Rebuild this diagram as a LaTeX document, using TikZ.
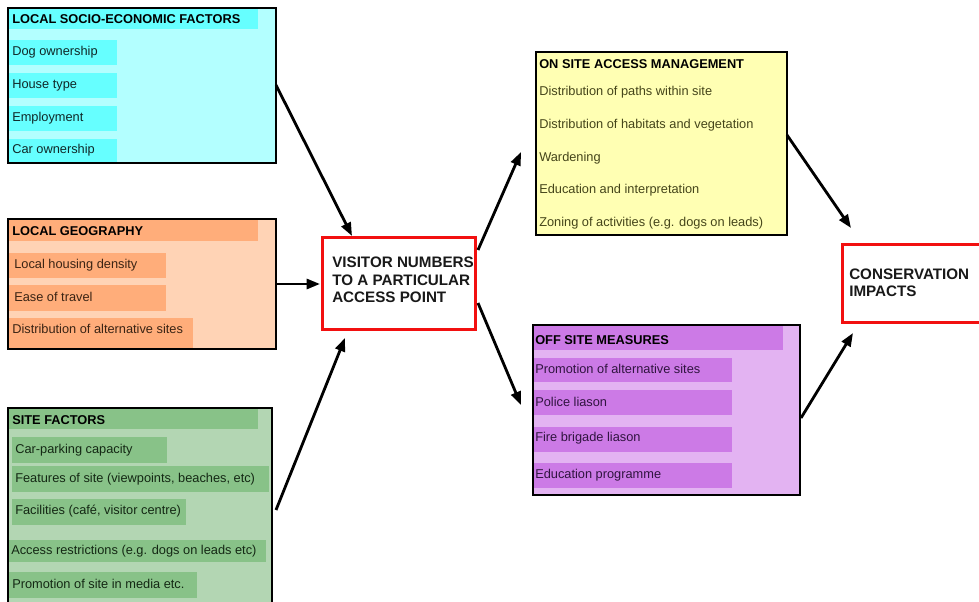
\documentclass[tikz,border=0pt]{standalone}
\usepackage{fontspec}
\setmainfont{Liberation Sans}
\usetikzlibrary{fit,calc,arrows.meta}
\definecolor{cyanfill}{HTML}{B3FFFF}
\definecolor{cyanbar}{HTML}{66FFFF}
\definecolor{orfill}{HTML}{FFD3B5}
\definecolor{orbar}{HTML}{FFAD7A}
\definecolor{grfill}{HTML}{B3D6B3}
\definecolor{grbar}{HTML}{88C288}
\definecolor{yefill}{HTML}{FFFFB3}
\definecolor{pufill}{HTML}{E3B3F2}
\definecolor{pubar}{HTML}{CC7AE6}
\definecolor{cytext}{HTML}{102828}
\definecolor{ortext}{HTML}{3A2414}
\definecolor{grtext}{HTML}{142814}
\definecolor{yetext}{HTML}{45451A}
\definecolor{putext}{HTML}{301440}
\definecolor{redline}{HTML}{F21010}
\tikzset{
  bigbox/.style={draw=black, line width=1.5pt, inner sep=0pt, outer sep=0pt},
  barbox/.style={inner sep=0pt, outer sep=0pt, draw=none},
  itemtext/.style={font=\fontsize{9.6}{11.5}\selectfont, inner sep=0pt, anchor=west, yshift=-1pt},
  titletext/.style={font=\bfseries\fontsize{9.6}{11.5}\selectfont, inner sep=0pt, anchor=west, text=black, yshift=-0.8pt},
  redbox/.style={draw=redline, line width=2.25pt, fill=white, inner sep=0pt, outer sep=0pt},
  bigtext/.style={font=\bfseries\fontsize{11.4}{13}\selectfont, inner sep=0pt, anchor=west, align=left, text=black!90},
  arr/.style={line width=2.1pt, -{Triangle[length=10pt,width=7.5pt]}}
}
\begin{document}
\begin{tikzpicture}[x=0.75pt,y=-0.75pt]
\useasboundingbox (0,0) rectangle (979,602);
\begin{scope}
\clip (0,0) rectangle (979,602);
% ---------- cyan box
\node[bigbox, fill=cyanfill, fit={(8,8)(276,163)}] (soc) {};
\node[barbox, fill=cyanbar, fit={(9,9)(258,29)}] (socb0) {};
\node[titletext] (soct) at (12,18) {LOCAL SOCIO-ECONOMIC FACTORS};
\node[barbox, fill=cyanbar, fit={(9,40)(117,65)}] (socb1) {};
\node[barbox, fill=cyanbar, fit={(9,73)(117,98)}] (socb2) {};
\node[barbox, fill=cyanbar, fit={(9,106)(117,131)}] (socb3) {};
\node[barbox, fill=cyanbar, fit={(9,139)(117,162)}] (socb4) {};
\node[itemtext, text=cytext] (soc1) at (12,51) {Dog ownership};
\node[itemtext, text=cytext] (soc2) at (12,84) {House type};
\node[itemtext, text=cytext] (soc3) at (12,117) {Employment};
\node[itemtext, text=cytext] (soc4) at (12,149) {Car ownership};
\draw[line width=1.5pt] (soc.north west) rectangle (soc.south east);
% ---------- orange box
\node[bigbox, fill=orfill, fit={(8,219)(276,349)}] (geo) {};
\node[barbox, fill=orbar, fit={(9,220)(258,241)}] (geob0) {};
\node[titletext] (geot) at (12,230) {LOCAL GEOGRAPHY};
\node[barbox, fill=orbar, fit={(9,253)(166,278)}] (geob1) {};
\node[barbox, fill=orbar, fit={(9,285)(166,311)}] (geob2) {};
\node[barbox, fill=orbar, fit={(9,318)(193,348)}] (geob3) {};
\node[itemtext, text=ortext] (geo1) at (14,264) {Local housing density};
\node[itemtext, text=ortext] (geo2) at (14,296) {Ease of travel};
\node[itemtext, text=ortext] (geo3) at (12,328) {Distribution of alternative sites};
\draw[line width=1.5pt] (geo.north west) rectangle (geo.south east);
% ---------- green box
\node[bigbox, fill=grfill, fit={(8,408)(272,612)}] (site) {};
\node[barbox, fill=grbar, fit={(9,409)(258,429)}] (siteb0) {};
\node[titletext] (sitet) at (12,419) {SITE FACTORS};
\node[barbox, fill=grbar, fit={(12,437)(167,463)}] (siteb1) {};
\node[barbox, fill=grbar, fit={(12,466)(269,492)}] (siteb2) {};
\node[barbox, fill=grbar, fit={(12,499)(186,525)}] (siteb3) {};
\node[barbox, fill=grbar, fit={(9,540)(266,562)}] (siteb4) {};
\node[barbox, fill=grbar, fit={(9,572)(197,598)}] (siteb5) {};
\node[itemtext, text=grtext] (site1) at (15,449) {Car-parking capacity};
\node[itemtext, text=grtext] (site2) at (15,478) {Features of site (viewpoints, beaches, etc)};
\node[itemtext, text=grtext] (site3) at (15,510) {Facilities (caf\'e, visitor centre)};
\node[itemtext, text=grtext] (site4) at (11,550) {Access restrictions (e.g. dogs on leads etc)};
\node[itemtext, text=grtext] (site5) at (12,583) {Promotion of site in media etc.};
\draw[line width=1.5pt] (site.north west) rectangle (site.south east);
% ---------- visitor box
\node[redbox, fit={(322,238)(475,330)}] (vis) {};
\node[bigtext] (vist) at (332,280) {VISITOR NUMBERS\\TO A PARTICULAR\\ACCESS POINT};
% ---------- yellow box
\node[bigbox, fill=yefill, fit={(536,52)(787,235)}] (onsite) {};
\node[titletext] (onsitet) at (539,63) {ON SITE ACCESS MANAGEMENT};
\node[itemtext, text=yetext] (on1) at (539,91) {Distribution of paths within site};
\node[itemtext, text=yetext] (on2) at (539,124) {Distribution of habitats and vegetation};
\node[itemtext, text=yetext] (on3) at (539,157) {Wardening};
\node[itemtext, text=yetext] (on4) at (539,189) {Education and interpretation};
\node[itemtext, text=yetext] (on5) at (539,222) {Zoning of activities (e.g. dogs on leads)};
% ---------- purple box
\node[bigbox, fill=pufill, fit={(533,325)(800,495)}] (offsite) {};
\node[barbox, fill=pubar, fit={(534,326)(783,350)}] (offb0) {};
\node[titletext] (offt) at (535,339) {OFF SITE MEASURES};
\node[barbox, fill=pubar, fit={(534,358)(732,382)}] (offb1) {};
\node[barbox, fill=pubar, fit={(534,390)(732,415)}] (offb2) {};
\node[barbox, fill=pubar, fit={(534,427)(732,452)}] (offb3) {};
\node[barbox, fill=pubar, fit={(534,463)(732,488)}] (offb4) {};
\node[itemtext, text=putext] (off1) at (535,368) {Promotion of alternative sites};
\node[itemtext, text=putext] (off2) at (535,401) {Police liason};
\node[itemtext, text=putext] (off3) at (535,437) {Fire brigade liason};
\node[itemtext, text=putext] (off4) at (535,474) {Education programme};
\draw[line width=1.5pt] (offsite.north west) rectangle (offsite.south east);
% ---------- conservation box
\node[redbox, fit={(842,245)(990,323)}] (cons) {};
\node[bigtext] (const) at (849,283) {CONSERVATION\\IMPACTS};
\end{scope}
% ---------- arrows
\draw[arr] ($(soc.north east)+(0,77)$) -- ($(vis.north west)+(30,-2)$);
\draw[arr] ($(geo.north east)+(0,65)$) -- ($(vis.north west)+(-2,46)$);
\draw[arr] ($(site.north east)+(4,102)$) -- ($(vis.south west)+(23,8)$);
\draw[arr] ($(vis.north east)+(3,12)$) -- ($(onsite.north west)+(-15,100)$);
\draw[arr] ($(vis.south east)+(3,-27)$) -- ($(offsite.north west)+(-12,80)$);
\draw[arr] ($(onsite.north east)+(0,83)$) -- ($(cons.north west)+(9,-17)$);
\draw[arr] ($(offsite.north east)+(1,93)$) -- ($(cons.south west)+(11,10)$);
\end{tikzpicture}
\end{document}
